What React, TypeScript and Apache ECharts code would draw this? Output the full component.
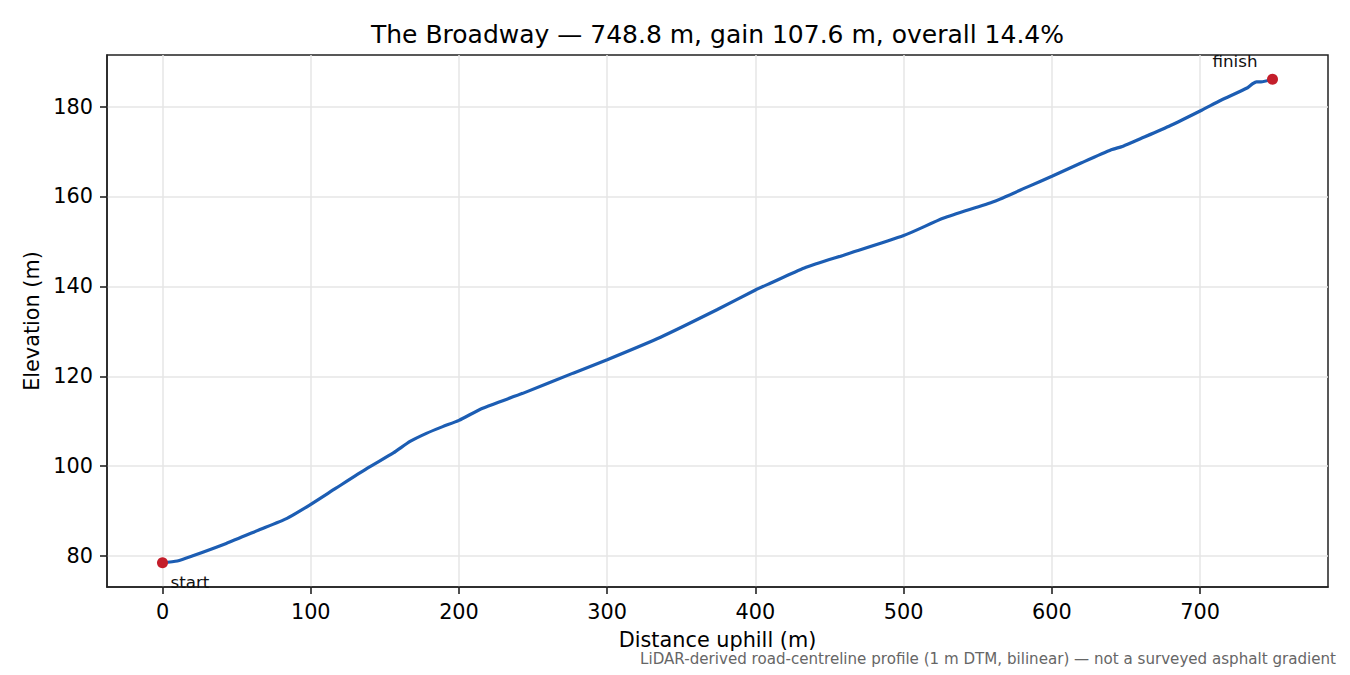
import { useEffect, useRef } from "react";
import * as echarts from "echarts";

const FONT = "DejaVu Sans";

// distance along the road (m) and elevation (m)
const distance = [
  0, 10, 20, 43, 65, 84, 99, 117, 138, 156, 167, 178, 189, 200, 216, 243,
  277, 300, 336, 374, 400, 410, 433, 460, 500, 527, 561, 584, 600, 620, 640,
  648, 660, 680, 701, 714, 732, 735.5, 738, 741, 748.8,
];
const elevation = [
  78.5, 78.9, 80.0, 82.8, 85.8, 88.4, 91.3, 95.1, 99.5, 103.0, 105.5, 107.3,
  108.8, 110.2, 112.9, 116.2, 120.7, 123.7, 128.7, 134.8, 139.2, 140.7, 144.1,
  147.0, 151.3, 155.2, 158.9, 162.2, 164.5, 167.5, 170.4, 171.2, 172.9, 175.8,
  179.2, 181.4, 184.2, 185.1, 185.5, 185.5, 186.1,
];

const xTicks = [0, 100, 200, 300, 400, 500, 600, 700];
const yTicks = [80, 100, 120, 140, 160, 180];

const TITLE = "The Broadway — 748.8 m, gain 107.6 m, overall 14.4%";
const NOTE =
  "LiDAR-derived road-centreline profile (1 m DTM, bilinear) — not a surveyed asphalt gradient";

export default function App() {
  const chartRef = useRef<HTMLDivElement>(null);

  useEffect(() => {
    if (!chartRef.current) return;
    const chart = echarts.init(chartRef.current, null, { renderer: "svg" });

    const last = distance.length - 1;
    const span = distance[last] - distance[0];
    const eMin = Math.min(...elevation);
    const eMax = Math.max(...elevation);
    const eSpan = eMax - eMin;

    const axisCommon = {
      type: "value" as const,
      nameLocation: "middle" as const,
      nameTextStyle: { fontFamily: FONT, fontSize: 20.8, color: "#000" },
      axisLine: { show: true, onZero: false, lineStyle: { color: "#222", width: 1.5 } },
      axisTick: { show: true, inside: false, length: 7, lineStyle: { color: "#222", width: 1.6 } },
      splitLine: { show: true, lineStyle: { color: "#e6e6e6", width: 1.5 } },
    };

    chart.setOption({
      animation: false,
      grid: {
        left: 107,
        right: 22,
        top: 55,
        bottom: 88,
        show: true,
        borderColor: "#222",
        borderWidth: 1.5,
      },
      xAxis: {
        ...axisCommon,
        name: "Distance uphill (m)",
        nameGap: 42,
        min: distance[0] - span * 0.05,
        max: distance[last] + span * 0.05,
        axisTick: { ...axisCommon.axisTick, customValues: xTicks },
        axisLabel: { customValues: xTicks, margin: 14, fontFamily: FONT, fontSize: 20.8, color: "#000" },
      },
      yAxis: {
        ...axisCommon,
        name: "Elevation (m)",
        nameGap: 62,
        min: eMin - eSpan * 0.05,
        max: eMax + eSpan * 0.05,
        axisTick: { ...axisCommon.axisTick, customValues: yTicks },
        axisLabel: { customValues: yTicks, margin: 14, fontFamily: FONT, fontSize: 20.8, color: "#000" },
      },
      graphic: [
        {
          type: "text",
          x: 717.5,
          y: 34,
          style: { text: TITLE, align: "center", verticalAlign: "middle", fontFamily: FONT, fontSize: 25, fill: "#000" },
        },
        {
          type: "text",
          x: 1336,
          y: 659,
          style: { text: NOTE, align: "right", verticalAlign: "middle", fontFamily: FONT, fontSize: 15.1, fill: "#666" },
        },
      ],
      series: [
        {
          type: "line",
          data: distance.map((d, i) => [d, elevation[i]]),
          showSymbol: false,
          symbol: "none",
          smooth: 0.2,
          lineStyle: { color: "#1c5db3", width: 3.2 },
          z: 2,
        },
        {
          type: "scatter",
          symbolSize: 11,
          itemStyle: { color: "#c41e2b", opacity: 1 },
          z: 3,
          label: { show: true, fontFamily: FONT, fontSize: 16.7, color: "#111", verticalAlign: "middle" },
          data: [
            {
              value: [distance[0], elevation[0]],
              label: { formatter: "start", position: [13.5, 24.5], align: "left" },
            },
            {
              value: [distance[last], elevation[last]],
              label: { formatter: "finish", position: [-9.5, -12.5], align: "right" },
            },
          ],
        },
      ],
    });

    return () => chart.dispose();
  }, []);

  return (
    <div
      ref={chartRef}
      style={{ position: "fixed", left: 0, top: 0, width: 1350, height: 675, background: "#fff" }}
    />
  );
}
